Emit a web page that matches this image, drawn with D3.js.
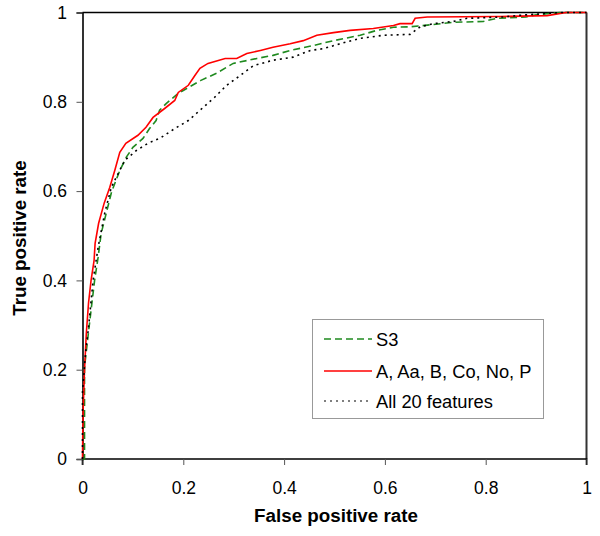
<!DOCTYPE html>
<html>
<head>
<meta charset="utf-8">
<script src="https://cdn.jsdelivr.net/npm/d3@7"></script>
<style>
  html, body { margin: 0; padding: 0; background: #fff; }
  svg { display: block; }
  text { font-family: "Liberation Sans", Arial, sans-serif; }
</style>
</head>
<body>
<svg id="chart" width="600" height="536"></svg>
<script>
// ---- Data ----
const xTicks = [0, 0.2, 0.4, 0.6, 0.8, 1];
const yTicks = [0, 0.2, 0.4, 0.6, 0.8, 1];
const xTitle = "False positive rate";
const yTitle = "True positive rate";
const seriesNames = ["S3", "A, Aa, B, Co, No, P", "All 20 features"];

const s3 = [[0,0],[0.004,0],[0.004,0.206],[0.013,0.295],[0.024,0.40],[0.031,0.452],[0.037,0.505],[0.047,0.55],[0.057,0.595],[0.061,0.608],[0.074,0.646],[0.087,0.676],[0.1,0.698],[0.12,0.718],[0.133,0.74],[0.146,0.758],[0.153,0.781],[0.166,0.796],[0.19,0.819],[0.21,0.832],[0.235,0.848],[0.266,0.864],[0.299,0.886],[0.346,0.897],[0.378,0.904],[0.412,0.915],[0.458,0.926],[0.498,0.937],[0.551,0.949],[0.584,0.96],[0.617,0.967],[0.65,0.968],[0.696,0.973],[0.736,0.978],[0.795,0.98],[0.823,0.987],[0.88,0.99],[0.9,0.995],[0.95,1],[1,1]];

const sixFeat = [[0,0],[0.001,0.1],[0.004,0.2],[0.0075,0.28],[0.012,0.35],[0.017,0.40],[0.023,0.445],[0.025,0.483],[0.032,0.528],[0.043,0.573],[0.054,0.608],[0.064,0.646],[0.074,0.687],[0.086,0.707],[0.11,0.725],[0.126,0.743],[0.14,0.765],[0.163,0.785],[0.183,0.803],[0.19,0.821],[0.21,0.837],[0.223,0.859],[0.233,0.875],[0.249,0.886],[0.283,0.897],[0.306,0.897],[0.326,0.908],[0.353,0.915],[0.378,0.922],[0.412,0.93],[0.438,0.937],[0.465,0.949],[0.498,0.955],[0.531,0.96],[0.577,0.964],[0.617,0.971],[0.63,0.975],[0.654,0.975],[0.66,0.987],[0.684,0.99],[0.829,0.991],[0.922,0.993],[0.96,1],[1,1]];

const all20 = [[0,0],[0,0.15],[0.006,0.237],[0.012,0.295],[0.021,0.40],[0.031,0.474],[0.044,0.55],[0.057,0.608],[0.067,0.631],[0.084,0.669],[0.107,0.691],[0.13,0.707],[0.156,0.72],[0.183,0.74],[0.21,0.758],[0.233,0.781],[0.262,0.81],[0.286,0.837],[0.313,0.859],[0.339,0.881],[0.378,0.893],[0.418,0.9],[0.452,0.915],[0.478,0.919],[0.511,0.93],[0.551,0.942],[0.597,0.949],[0.65,0.951],[0.67,0.968],[0.696,0.975],[0.736,0.98],[0.763,0.987],[0.835,0.99],[0.87,0.994],[0.95,1],[1,1]];

// ---- Layout ----
const L = 82.5, R = 586.5, T = 12.5, B = 459;
const svg = d3.select("#chart");
const x = d3.scaleLinear().domain([0, 1]).range([L, R]);
const y = d3.scaleLinear().domain([0, 1]).range([B, T]);

const styles = [
  { data: s3, color: "#1f8a1f", dash: "7,4", width: 1.6 },
  { data: sixFeat, color: "#ff0000", dash: null, width: 1.6 },
  { data: all20, color: "#000000", dash: "2,4", width: 1.6 }
];

// Plot box (top/right)
svg.append("line").attr("x1", L).attr("x2", R).attr("y1", T).attr("y2", T)
  .attr("stroke", "#000").attr("stroke-width", 1.5);
svg.append("line").attr("x1", R).attr("x2", R).attr("y1", T).attr("y2", B)
  .attr("stroke", "#333").attr("stroke-width", 2);

// Axes
const xAxis = d3.axisBottom(x).tickValues(xTicks).tickSize(6).tickPadding(17)
  .tickFormat(d => d3.format("~g")(d));
const yAxis = d3.axisLeft(y).tickValues(yTicks).tickSize(6).tickPadding(9.5)
  .tickFormat(d => d3.format("~g")(d));

const gx = svg.append("g").attr("transform", `translate(0,${B})`).call(xAxis);
const gy = svg.append("g").attr("transform", `translate(${L},0)`).call(yAxis);
[gx, gy].forEach(g => {
  g.select(".domain").attr("stroke", "#000").attr("stroke-width", 1.6);
  g.selectAll(".tick line").attr("stroke", "#555").attr("stroke-width", 1);
  g.selectAll(".tick text").attr("font-size", 17.5).attr("fill", "#000")
    .attr("font-family", "Liberation Sans, Arial, sans-serif");
});
gx.select(".domain").attr("d", `M${L},6V0H${R}V6`);

// Curves
const line = d3.line().x(d => x(d[0])).y(d => y(d[1]));
styles.forEach(s => {
  svg.append("path").datum(s.data)
    .attr("d", line)
    .attr("fill", "none")
    .attr("stroke", s.color)
    .attr("stroke-width", s.width)
    .attr("stroke-dasharray", s.dash)
    .attr("stroke-linejoin", "miter");
});

// Axis titles
svg.append("text").attr("x", 336).attr("y", 522)
  .attr("text-anchor", "middle").attr("font-size", 18.8).attr("font-weight", "bold")
  .text(xTitle);
svg.append("text").attr("transform", `translate(26,238) rotate(-90)`)
  .attr("text-anchor", "middle").attr("font-size", 18.8).attr("font-weight", "bold")
  .text(yTitle);

// Legend
const lg = svg.append("g");
lg.append("rect").attr("x", 312.5).attr("y", 319.5).attr("width", 231).attr("height", 99)
  .attr("fill", "#fff").attr("stroke", "#999").attr("stroke-width", 1);
const legY = [339, 371, 401];
styles.forEach((s, i) => {
  lg.append("line").attr("x1", 324).attr("x2", 372).attr("y1", legY[i]).attr("y2", legY[i])
    .attr("stroke", s.color).attr("stroke-width", s.dash && s.dash.startsWith("2") ? 1.2 : 1.6)
    .attr("stroke-dasharray", s.dash);
  lg.append("text").attr("x", 376).attr("y", legY[i]).attr("dy", "0.36em")
    .attr("font-size", 18.3).text(seriesNames[i]);
});
</script>
</body>
</html>
